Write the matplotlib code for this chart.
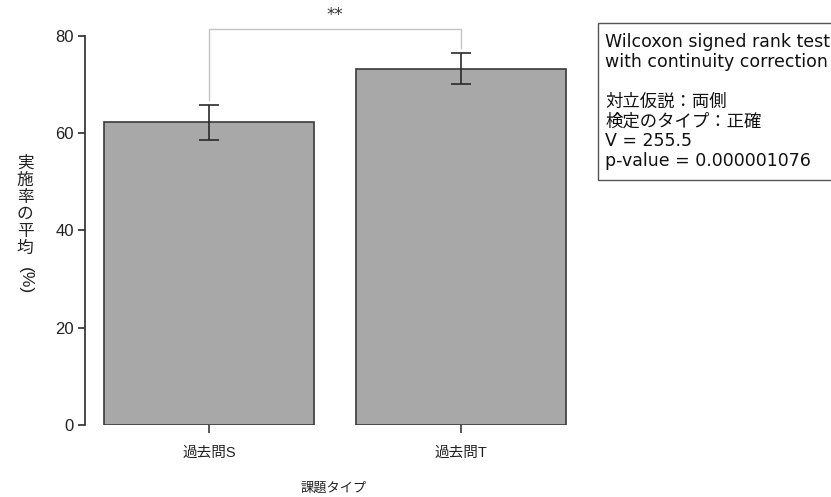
#!/usr/bin/env python3
"""Bar chart of mean completion rate by task type, with Wilcoxon test annotation."""

import matplotlib
matplotlib.use("Agg")
import matplotlib.pyplot as plt

categories = ["過去問S", "過去問T"]
means = [62.3, 73.2]
err_low = [58.6, 70.2]
err_high = [65.8, 76.5]
y_ticks = [0, 20, 40, 60, 80]
significance = "**"
test_lines = [
    "Wilcoxon signed rank test",
    "with continuity correction",
    "",
    "対立仮説：両側",
    "検定のタイプ：正確",
    "V = 255.5",
    "p-value = 0.000001076",
]

JP = ["Liberation Sans", "Noto Sans CJK JP", "DejaVu Sans"]
BOX_FONT = ["DejaVu Sans", "Noto Sans CJK JP"]

W, H = 831, 497
fig = plt.figure(figsize=(W / 100, H / 100), dpi=100)

# axes in pixel terms: left spine at x=85, y=0 at 425, y=80 at 36
left_px, right_px, top_px, bottom_px = 85, 600, 36, 425
ax = fig.add_axes([left_px / W, 1 - bottom_px / H, (right_px - left_px) / W, (bottom_px - top_px) / H])

# R barplot layout: width 1, space 0.2 -> centres 0.7, 1.9; 210 px per unit, x=0 at 62 px
px_per_unit = 210.0
x0_px = 62.0
ax.set_xlim((left_px - x0_px) / px_per_unit, (right_px - x0_px) / px_per_unit)
ax.set_ylim(0, 80)

centers = [0.7 + 1.2 * i for i in range(len(categories))]
ax.bar(centers, means, width=1.0, color="#a8a8a8", edgecolor="#3a3a3a", linewidth=1.2, zorder=2)
yerr = [[m - lo for m, lo in zip(means, err_low)], [hi - m for m, hi in zip(means, err_high)]]
ax.errorbar(centers, means, yerr=yerr, fmt="none", ecolor="#2a2a2a", elinewidth=1.2,
            capsize=7, capthick=1.2, zorder=3)

# significance bracket above the bars
gap = 1.1
bracket_y = 81.4
ax.plot([centers[0], centers[0], centers[1], centers[1]],
        [err_high[0] + gap, bracket_y, bracket_y, err_high[1] + gap],
        color="#c4c4c4", lw=1.0, clip_on=False, zorder=1)
ax.text((centers[0] + centers[1]) / 2, bracket_y + 1.0, significance, ha="center", va="bottom",
        fontsize=12, color="#333333", family="DejaVu Sans")

for side in ("top", "right", "bottom"):
    ax.spines[side].set_visible(False)
ax.spines["left"].set_color("#3a3a3a")
ax.spines["left"].set_linewidth(1.3)
ax.set_yticks(y_ticks)
ax.set_yticklabels([str(t) for t in y_ticks], family=JP, fontsize=12, color="#222222")
ax.tick_params(axis="y", length=5, width=1.3, color="#3a3a3a", pad=3)
ax.set_xticks(centers)
ax.set_xticklabels(categories, family=JP, fontsize=10.5, color="#222222")
ax.tick_params(axis="x", length=6, width=1.2, color="#3a3a3a", pad=9)

# axis titles
fig.text(334 / W, 1 - 489 / H, "課題タイプ", ha="center", va="center", fontsize=9.5,
         family=JP, color="#222222")
fig.text(25 / W, 1 - 206 / H, "\n".join("実施率の平均"), ha="center", va="center",
         fontsize=12, family=["Noto Sans CJK JP"], color="#222222", linespacing=1.0)
fig.text(25 / W, 1 - 281 / H, "(%)", ha="center", va="center", rotation=270,
         fontsize=12.5, family=JP, color="#222222")

# test result box, runs off the right edge
box_left, box_top, box_bottom = 598, 23, 180
fig.patches.append(plt.Rectangle((box_left / W, 1 - box_bottom / H), (W - box_left + 20) / W,
                                 (box_bottom - box_top) / H, transform=fig.transFigure,
                                 facecolor="white", edgecolor="#555555", linewidth=1.0))
fig.text(605 / W, 1 - 33 / H, "\n".join(test_lines), ha="left", va="top", fontsize=12.5,
         family=BOX_FONT, color="#111111", linespacing=1.13)

fig.savefig("out.png", dpi=100)
